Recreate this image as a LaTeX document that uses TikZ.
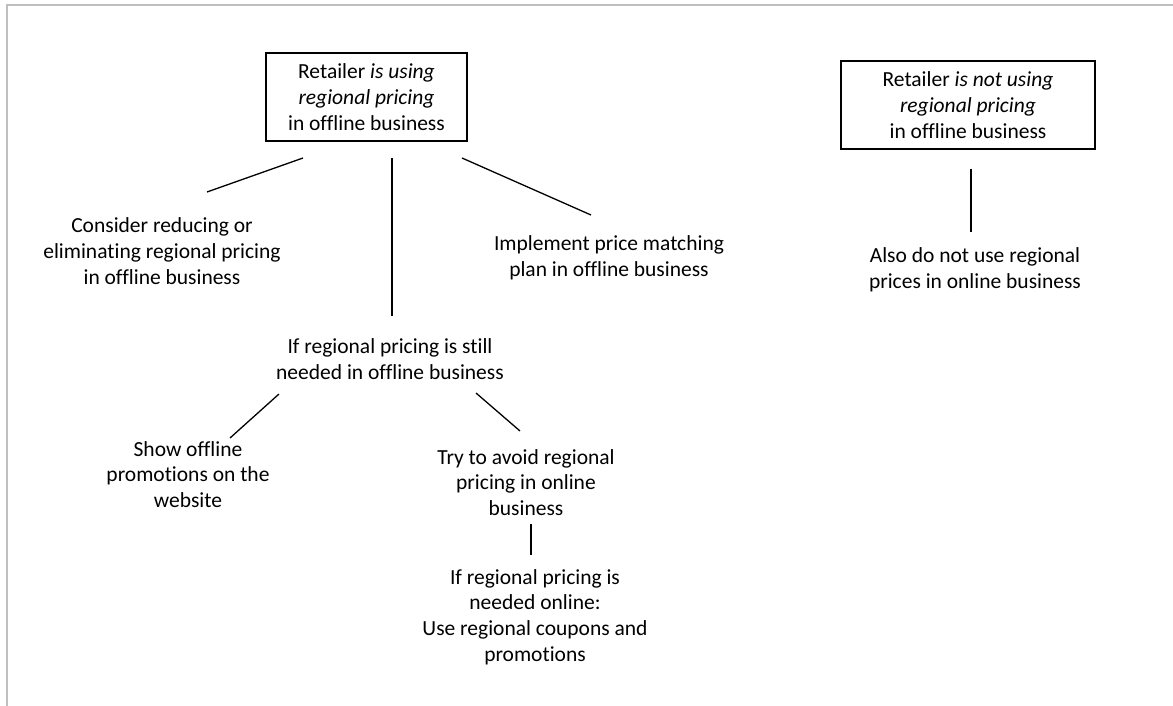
\documentclass[tikz,border=0pt]{standalone}
\usepackage{fontspec}
\setmainfont{Carlito}[Ligatures=NoCommon]
\begin{document}
\begin{tikzpicture}[x=1pt,y=-1pt,
  txt/.style={align=center,inner sep=0pt,font=\fontsize{21.5}{25.7}\selectfont},
  boxnode/.style={txt,draw,line width=1.4pt,minimum height=88pt},
  link/.style={line width=1.3pt},
  frame/.style={draw=black!25,line width=2pt}]
\useasboundingbox (0,0) rectangle (1173,706);
\draw[frame] (7,706) -- (7,5) -- (1173,5);
% boxes
\node[boxnode,minimum width=201pt] (using) at (366.5,97) {Retailer \textit{is using}\\\textit{regional pricing}\\in offline business};
\node[boxnode,minimum width=254pt] (notusing) at (968,105) {Retailer \textit{is not using}\\\textit{regional pricing}\\in offline business};
% texts
\node[txt] (reduce) at (162,251) {Consider reducing or\\eliminating regional pricing\\in offline business};
\node[txt] (match) at (609,258) {Implement price matching\\plan in offline business};
\node[txt] (still) at (390,359) {If regional pricing is still\\needed in offline business};
\node[txt] (show) at (188,474.5) {Show offline\\promotions on the\\website};
\node[txt] (avoid) at (526,482.5) {Try to avoid regional\\pricing in online\\business};
\node[txt] (coupons) at (535,617) {If regional pricing is\\needed online:\\Use regional coupons and\\promotions};
\node[txt] (also) at (975,270) {Also do not use regional\\prices in online business};
% connector ends
\coordinate (l1a) at (303,158); \coordinate (l1b) at (207,192);
\coordinate (l2a) at (392,158); \coordinate (l2b) at (392,316);
\coordinate (l3a) at (462,158); \coordinate (l3b) at (591,215);
\coordinate (l4a) at (279,394); \coordinate (l4b) at (230,438);
\coordinate (l5a) at (476,393); \coordinate (l5b) at (520,431);
\coordinate (l6a) at (531,524); \coordinate (l6b) at (531,555);
\coordinate (l7a) at (971,169); \coordinate (l7b) at (971,232);
\draw[link] (l1a) -- (l1b);
\draw[link] (l2a) -- (l2b);
\draw[link] (l3a) -- (l3b);
\draw[link] (l4a) -- (l4b);
\draw[link] (l5a) -- (l5b);
\draw[link] (l6a) -- (l6b);
\draw[link] (l7a) -- (l7b);
\end{tikzpicture}
\end{document}
